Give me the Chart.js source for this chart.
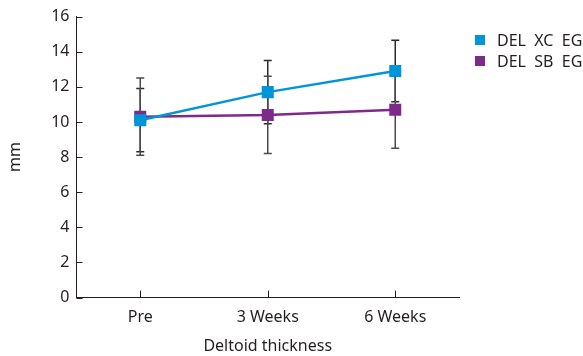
<!DOCTYPE html>
<html>
<head>
<meta charset="utf-8">
<script src="https://cdn.jsdelivr.net/npm/chart.js@4"></script>
<style>
  html, body { margin: 0; padding: 0; background: #fff; }
  #wrap { position: relative; width: 583px; height: 356px; }
  #legend { position: absolute; left: 475px; top: 30px; font: 16px 'Noto Sans', sans-serif; color: #231f20; }
  #legend div { display: flex; align-items: center; height: 20.5px; white-space: pre; }
  #legend span.box { display: inline-block; width: 10px; height: 10px; margin-right: 12px; }
</style>
</head>
<body>
<div id="wrap">
  <canvas id="chart" width="583" height="356"></canvas>
  <div id="legend"></div>
</div>
<script>
// values (mean and SD, mm)
const categories = ["Pre", "3 Weeks", "6 Weeks"];
const xcMean = [10.1, 11.7, 12.9];
const xcSd = [1.8, 1.8, 1.75];
const sbMean = [10.3, 10.4, 10.7];
const sbSd = [2.2, 2.2, 2.2];
const yTicks = [0, 2, 4, 6, 8, 10, 12, 14, 16];

const TEXT = "#231f20";
const BLUE = "#0095d9";
const PURPLE = "#7e2a8a";
const FONT = "'Noto Sans', sans-serif";

// error bars under the markers, ticks pointing into the plot
const errorBars = {
  id: "errorBars",
  beforeDatasetsDraw(chart) {
    const { ctx, scales: { x, y } } = chart;
    ctx.save();
    chart.data.datasets.forEach(ds => {
      ctx.strokeStyle = ds.errColor;
      ctx.lineWidth = 1.5;
      ds.data.forEach((v, i) => {
        const px = x.getPixelForValue(i);
        const top = y.getPixelForValue(v + ds.sd[i]);
        const bot = y.getPixelForValue(v - ds.sd[i]);
        ctx.beginPath();
        ctx.moveTo(px, top); ctx.lineTo(px, bot);
        ctx.moveTo(px - 4, top); ctx.lineTo(px + 4, top);
        ctx.moveTo(px - 4, bot); ctx.lineTo(px + 4, bot);
        ctx.stroke();
      });
    });
    ctx.restore();
  },
  afterDraw(chart) {
    const { ctx, chartArea: a, scales: { x, y } } = chart;
    ctx.save();
    ctx.strokeStyle = TEXT;
    ctx.lineWidth = 1;
    ctx.beginPath();
    x.ticks.forEach((t, i) => {
      const px = Math.round(x.getPixelForTick(i)) + 0.5;
      ctx.moveTo(px, a.bottom); ctx.lineTo(px, a.bottom - 7);
    });
    y.ticks.forEach((t, i) => {
      const py = Math.round(y.getPixelForTick(i)) + 0.5;
      ctx.moveTo(a.left, py); ctx.lineTo(a.left + 6, py);
    });
    ctx.stroke();
    ctx.restore();
  }
};

const chart = new Chart(document.getElementById("chart"), {
  type: "line",
  data: {
    labels: categories,
    datasets: [
      {
        label: "DEL  XC  EG",
        data: xcMean,
        sd: xcSd,
        errColor: "#2a2a2a",
        borderColor: BLUE,
        backgroundColor: BLUE,
        borderWidth: 2.5,
        pointStyle: "rect",
        pointRadius: 8.5,
        pointBorderWidth: 0,
        pointHoverRadius: 8.5
      },
      {
        label: "DEL  SB  EG",
        data: sbMean,
        sd: sbSd,
        errColor: "#4a4a4a",
        borderColor: PURPLE,
        backgroundColor: PURPLE,
        borderWidth: 2.5,
        pointStyle: "rect",
        pointRadius: 8.5,
        pointBorderWidth: 0,
        pointHoverRadius: 8.5
      }
    ]
  },
  options: {
    responsive: false,
    animation: false,
    layout: { padding: { top: 12, right: 124, left: 0, bottom: 0 } },
    plugins: {
      tooltip: { enabled: false },
      legend: { display: false }
    },
    scales: {
      x: {
        offset: true,
        grid: { display: false, drawTicks: false },
        border: { display: true, color: TEXT, width: 1 },
        ticks: { color: TEXT, font: { family: FONT, size: 16 }, padding: 10 },
        title: {
          display: true,
          text: "Deltoid thickness",
          color: TEXT,
          font: { family: FONT, size: 16 },
          padding: { top: 0, bottom: 0 }
        }
      },
      y: {
        min: 0,
        max: 16,
        afterBuildTicks(scale) { scale.ticks = yTicks.map(v => ({ value: v })); },
        grid: { display: false, drawTicks: false },
        border: { display: true, color: TEXT, width: 1 },
        ticks: { color: TEXT, font: { family: FONT, size: 16 }, padding: 7 },
        title: {
          display: true,
          text: "mm",
          color: TEXT,
          font: { family: FONT, size: 16 },
          padding: { top: 6, bottom: 19 }
        }
      }
    }
  },
  plugins: [errorBars]
});

// legend as plain text next to the plot
document.getElementById("legend").innerHTML = chart.data.datasets
  .map(ds => `<div><span class="box" style="background:${ds.backgroundColor}"></span>${ds.label}</div>`)
  .join("");
</script>
</body>
</html>
